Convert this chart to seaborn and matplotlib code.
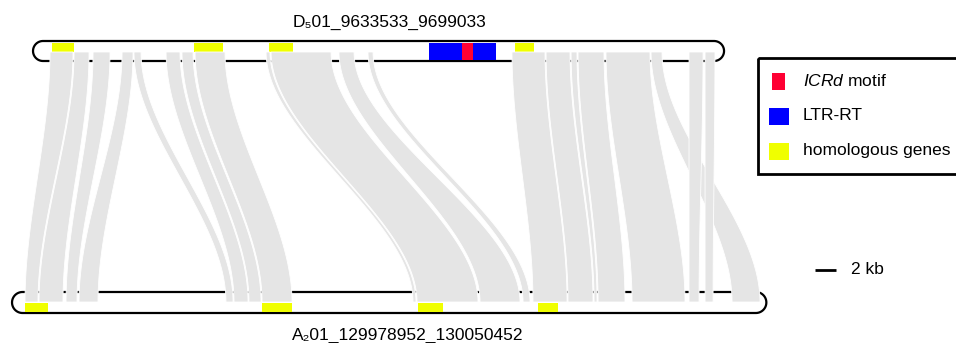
import numpy as np
import pandas as pd
import matplotlib
matplotlib.use("Agg")
import matplotlib.pyplot as plt
import seaborn as sns
from matplotlib.patches import Rectangle

# nombres y longitudes de los dos segmentos (kb)
top_name = "D\u208501_9633533_9699033"
bottom_name = "A\u208201_129978952_130050452"
top_len_kb = 65.5
bottom_len_kb = 71.5

# genes homologos en D5 (kb desde el inicio del segmento)
top_gene_start = [1.80, 15.26, 22.37, 45.69]
top_gene_end = [3.89, 18.01, 24.64, 47.49]

# LTR-RT y motivo ICRd en D5
ltr_start = [37.54]
ltr_end = [43.89]
icrd_start = [40.66]
icrd_end = [41.71]

# genes homologos en A2
bottom_gene_start = [1.23, 23.70, 38.48, 49.86]
bottom_gene_end = [3.41, 26.54, 40.85, 51.75]

# bloques colineales: inicio/fin en D5 y en A2 (kb)
syn_top_start = [1.61, 3.89, 5.69, 8.44, 9.57, 12.61, 14.12, 15.36, 22.09, 22.56,
                 29.00, 31.75, 45.40, 48.63, 51.00, 51.66, 54.31, 58.58, 62.18, 63.70]
syn_top_end = [3.79, 5.31, 7.30, 9.48, 10.24, 13.93, 15.17, 18.20, 22.46, 28.25,
               30.43, 32.23, 48.53, 50.90, 51.56, 54.12, 58.48, 59.62, 63.51, 64.64]
syn_bottom_start = [1.23, 2.56, 5.12, 6.35, 20.28, 21.04, 22.46, 23.70, 38.01, 38.39,
                    44.36, 48.44, 49.38, 52.70, 55.17, 55.55, 58.77, 68.25, 64.17, 65.69]
syn_bottom_end = [2.46, 4.83, 6.16, 8.15, 20.95, 22.37, 23.60, 26.54, 38.29, 44.17,
                  48.15, 49.10, 52.61, 55.07, 55.45, 58.10, 63.79, 70.90, 65.12, 66.45]

legend_labels = ["$\\mathit{ICRd}$ motif", "LTR-RT", "homologous genes"]
scale_kb = 2

# estilo
sns.set_theme(style="white")
plt.rcParams['font.family'] = ['Liberation Sans', 'DejaVu Sans']
plt.rcParams['text.color'] = 'black'
plt.rcParams['mathtext.fontset'] = 'custom'
plt.rcParams['mathtext.rm'] = 'Liberation Sans'
plt.rcParams['mathtext.it'] = 'Liberation Sans:italic'

px_per_kb = 10.55
top_x0 = 3.13
bottom_x0 = 1.14
ribbon_color = "#e5e5e5"
yellow = "#f0ff00"
blue = "#0000ff"
red = "#ff0033"

fig = plt.figure(figsize=(9.56, 3.43), dpi=100)
ax = fig.add_axes([0, 0, 1, 1])
ax.set_xlim(0, 956 / px_per_kb)
ax.set_ylim(343, 0)
ax.axis('off')


def draw_chrom(x0, length, y_top, y_bot):
    ry = (y_bot - y_top) / 2
    rx = ry / px_per_kb
    yc = (y_top + y_bot) / 2
    a_r = np.linspace(-np.pi / 2, np.pi / 2, 40)
    a_l = np.linspace(np.pi / 2, 3 * np.pi / 2, 40)
    xs = np.concatenate([x0 + length - rx + rx * np.cos(a_r), x0 + rx + rx * np.cos(a_l)])
    ys = np.concatenate([yc + ry * np.sin(a_r), yc + ry * np.sin(a_l)])
    ax.fill(xs, ys, facecolor="white", edgecolor="black", lw=1.6, zorder=1)


draw_chrom(top_x0, top_len_kb, 41, 61)
draw_chrom(bottom_x0, bottom_len_kb, 292, 313)

# genes homologos
for s, e in zip(top_gene_start, top_gene_end):
    ax.add_patch(Rectangle((top_x0 + s, 43), e - s, 8.5, color=yellow, lw=0, zorder=2))
for s, e in zip(bottom_gene_start, bottom_gene_end):
    ax.add_patch(Rectangle((bottom_x0 + s, 303), e - s, 8.5, color=yellow, lw=0, zorder=2))

# LTR-RT e ICRd
for s, e in zip(ltr_start, ltr_end):
    ax.add_patch(Rectangle((top_x0 + s, 42.5), e - s, 17.5, color=blue, lw=0, zorder=2))
for s, e in zip(icrd_start, icrd_end):
    ax.add_patch(Rectangle((top_x0 + s, 42.5), e - s, 17.5, color=red, lw=0, zorder=2.1))

# cintas de sintenia
syn = pd.DataFrame({'ts': syn_top_start, 'te': syn_top_end,
                    'bs': syn_bottom_start, 'be': syn_bottom_end})
y0, y1 = 52, 302
t = np.linspace(0, 1, 80)
smooth = 3 * t ** 2 - 2 * t ** 3
for _, r in syn.iterrows():
    xl = top_x0 + r.ts + (bottom_x0 + r.bs - top_x0 - r.ts) * smooth
    xr = top_x0 + r.te + (bottom_x0 + r.be - top_x0 - r.te) * smooth
    yy = y0 + (y1 - y0) * t
    ax.fill(np.concatenate([xl, xr[::-1]]), np.concatenate([yy, yy[::-1]]),
            facecolor=ribbon_color, edgecolor="white", lw=0.6, zorder=3)

# barra de escala
sb_x = 815 / px_per_kb
ax.plot([sb_x, sb_x + scale_kb], [270, 270], color="black", lw=2, solid_capstyle='butt')

# capa para textos y leyenda (coordenadas en pixeles)
lay = fig.add_axes([0, 0, 1, 1])
lay.set_xlim(0, 956)
lay.set_ylim(343, 0)
lay.axis('off')
lay.patch.set_alpha(0)

lay.text(390, 27, top_name, ha='center', va='baseline', fontsize=12.5, color='black')
lay.text(408, 340, bottom_name, ha='center', va='baseline', fontsize=12.5, color='black')
lay.text(851, 270, f"{scale_kb} kb", ha='left', va='center', fontsize=12.5, color='black')

lay.add_patch(Rectangle((758, 58), 230, 116, fill=False, edgecolor="black", lw=2))
lay.add_patch(Rectangle((772, 73), 13, 17, color=red, lw=0))
lay.add_patch(Rectangle((769, 108), 20, 17, color=blue, lw=0))
lay.add_patch(Rectangle((769, 143), 20, 17, color=yellow, lw=0))
for lbl, yy in zip(legend_labels, [81, 116, 151]):
    lay.text(803, yy, lbl, ha='left', va='center', fontsize=12.5, color='black')

plt.savefig("out.png", dpi=100)
plt.close()
